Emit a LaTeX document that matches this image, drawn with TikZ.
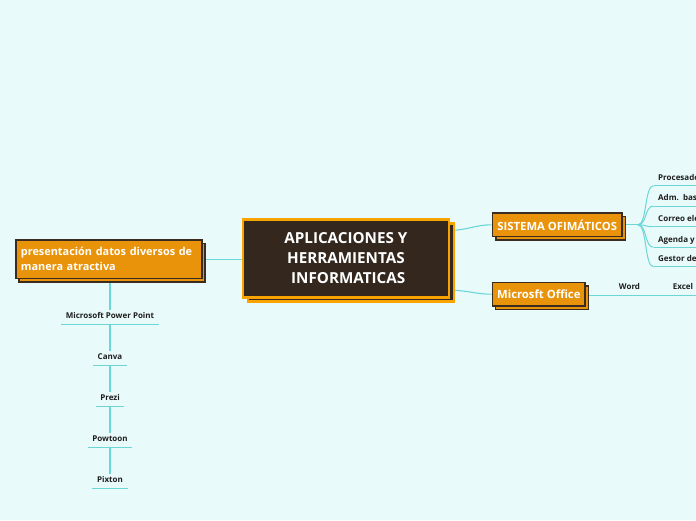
\documentclass[tikz,border=0pt]{standalone}
\usepackage{fontspec}
\setmainfont{Open Sans}
\usetikzlibrary{shadows,calc}
\definecolor{bgc}{HTML}{E9FAFA}
\definecolor{lnc}{HTML}{6CD6D6}
\definecolor{orf}{HTML}{E8930A}
\definecolor{dkb}{HTML}{3A2C20}
\definecolor{cfill}{HTML}{34281E}
\definecolor{cbord}{HTML}{F9A300}
\definecolor{txt}{HTML}{1E1E1E}
\pgfdeclarelayer{bglayer}
\pgfdeclarelayer{lines}
\pgfsetlayers{bglayer,lines,main}
\begin{document}
\begin{tikzpicture}[x=1pt,y=-1pt,
  mainbox/.style={draw=cbord, fill=cfill, line width=2.5pt, text=white,
    font=\fontsize{15.2}{19.8}\selectfont\bfseries, align=center,
    minimum width=206pt, minimum height=78pt, inner sep=0pt,
    copy shadow={shadow xshift=5pt, shadow yshift=-4pt}},
  topicbox/.style={draw=dkb, fill=orf, line width=1.5pt, text=white,
    inner sep=0pt, copy shadow={shadow xshift=3.3pt, shadow yshift=-3.3pt}},
  item/.style={font=\fontsize{8}{9}\selectfont\bfseries, text=txt,
    inner xsep=4.5pt, inner ysep=3pt, text height=6pt, text depth=2pt,
    append after command={(\tikzlastnode.south west) edge[lnc, line width=1pt] (\tikzlastnode.south east)}},
  conn/.style={draw=lnc, line width=1.1pt}
]
\useasboundingbox (0,0) rectangle (696,520);
\clip (0,0) rectangle (696,520);
\begin{pgfonlayer}{bglayer}
\fill[bgc] (0,0) rectangle (696,520);
\end{pgfonlayer}

% main nodes
\node[mainbox] (center) at (345.9,258.3) {APLICACIONES Y\\HERRAMIENTAS\\\hspace*{0.3em}INFORMATICAS};
\node[topicbox, minimum width=186pt, minimum height=38.5pt, text width=176pt, align=left,
  font=\fontsize{10.9}{15}\selectfont\bfseries] (left) at (108.9,259.3)
  {presentación datos diversos de\\manera atractiva};
\node[topicbox, minimum width=129.5pt, minimum height=23.5pt,
  font=\fontsize{11.3}{12}\selectfont\bfseries] (sis) at (557.2,224.8) {SISTEMA OFIMÁTICOS};
\node[topicbox, minimum width=92.8pt, minimum height=23.5pt,
  font=\fontsize{11.3}{12}\selectfont\bfseries] (office) at (538.8,294.2) {Microsft Office};

% left items
\node[item, anchor=south] (mpp) at (110,324) {Microsoft Power Point};
\node[item, anchor=south] (canva) at (110,365) {Canva};
\node[item, anchor=south] (prezi) at (110,406) {Prezi};
\node[item, anchor=south] (powtoon) at (110,447) {Powtoon};
\node[item, anchor=south] (pixton) at (110,488) {Pixton};

% sistema children
\node[item, anchor=south west] (c1) at (653.5,185.7) {Procesado};
\node[item, anchor=south west] (c2) at (653.5,206) {Adm.\ \ bas};
\node[item, anchor=south west] (c3) at (653.5,226.7) {Correo ele};
\node[item, anchor=south west] (c4) at (653.5,247.3) {Agenda y};
\node[item, anchor=south west] (c5) at (653.5,266.7) {Gestor de};

% office children
\node[item, anchor=south, minimum width=50pt] (word) at (629.5,295) {Word};
\node[item, anchor=south, minimum width=56pt] (excel) at (683,295) {Excel};

\coordinate (br) at (638,224.8);

\begin{pgfonlayer}{lines}
\draw[conn] (left.east) -- (left.east -| center.west);
\draw[conn] (mpp.north |- left.south) -- (mpp.north);
\draw[conn] (mpp.south) -- (canva.north);
\draw[conn] (canva.south) -- (prezi.north);
\draw[conn] (prezi.south) -- (powtoon.north);
\draw[conn] (powtoon.south) -- (pixton.north);
\draw[conn] (center.15) to[out=0,in=180] (sis.west);
\draw[conn] (center.-17) to[out=0,in=180] (office.west);
\draw[conn] (sis.east) -- (br);
\foreach \c in {c1,c2,c3,c4,c5}
  \draw[lnc, line width=1pt] (br) .. controls ($(br)+(9,0)$) and ($(\c.south west)+(-9,0)$) .. (\c.south west);
\draw[lnc, line width=1pt] (office.east |- word.south west) -- (word.south west);
\draw[lnc, line width=1pt] (word.south east) -- (excel.south west);
\end{pgfonlayer}
\end{tikzpicture}
\end{document}
